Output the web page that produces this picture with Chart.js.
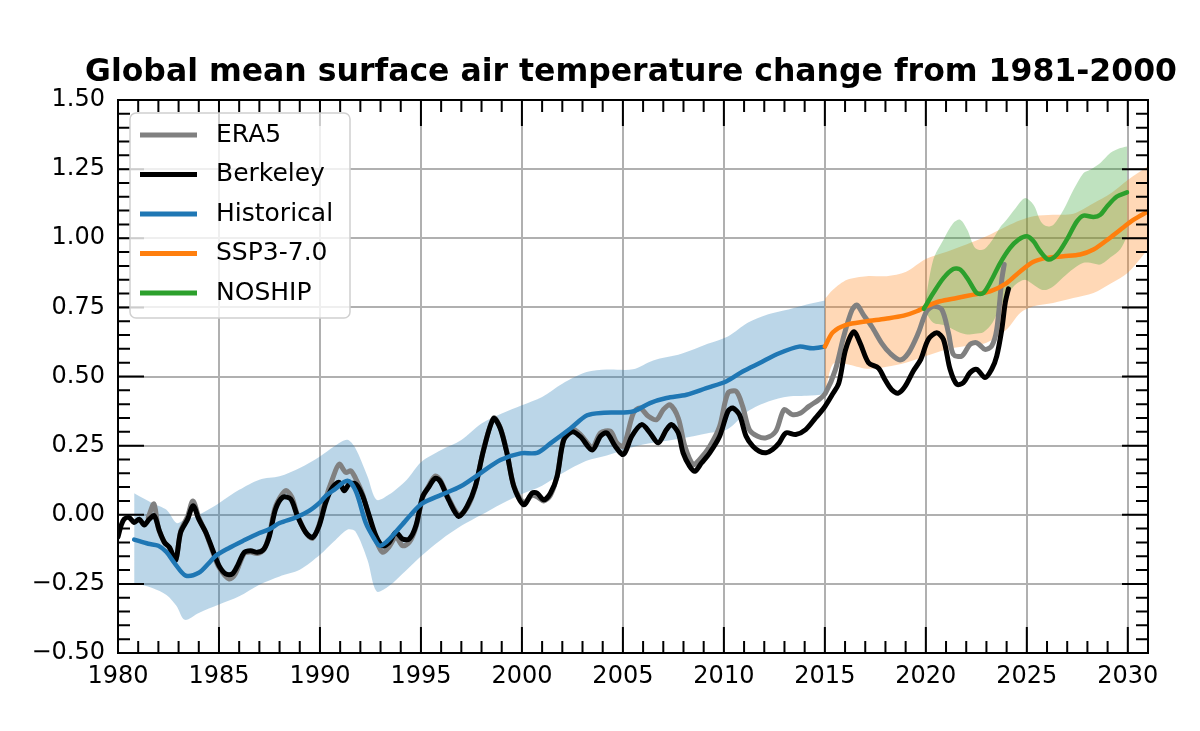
<!DOCTYPE html>
<html><head><meta charset="utf-8">
<script src="https://cdn.jsdelivr.net/npm/chart.js@4.4.1/dist/chart.umd.min.js"></script>
<style>html,body{margin:0;padding:0;background:#fff}#wrap{width:1200px;height:731px;position:relative}</style>
</head><body><div id="wrap"><canvas id="c"></canvas></div>
<script>
const titleText = 'Global mean surface air temperature change from 1981-2000';
const seriesNames = ['ERA5', 'Berkeley', 'Historical', 'SSP3-7.0', 'NOSHIP'];
const xTickYears = [1980, 1985, 1990, 1995, 2000, 2005, 2010, 2015, 2020, 2025, 2030];
const yTickValues = [-0.5, -0.25, 0, 0.25, 0.5, 0.75, 1.0, 1.25, 1.5];

const berkYears = [1980.0,1980.15,1980.3,1980.55,1980.8,1981.05,1981.3,1981.55,1981.8,1982.05,1982.3,1982.55,1982.85,1983.1,1983.45,1983.72,1984.0,1984.35,1984.67,1985.0,1985.33,1985.66,1985.92,1986.25,1986.57,1986.9,1987.23,1987.5,1987.8,1988.15,1988.55,1988.88,1989.3,1989.63,1989.96,1990.29,1990.62,1990.95,1991.2,1991.45,1991.78,1992.11,1992.44,1992.77,1993.1,1993.43,1993.76,1994.09,1994.42,1994.75,1995.08,1995.35,1995.71,1995.96,1996.37,1996.87,1997.28,1997.69,1998.1,1998.6,1998.93,1999.26,1999.6,2000.09,2000.5,2000.75,2001.08,2001.41,2001.74,2002.07,2002.49,2002.9,2003.48,2003.89,2004.2,2004.62,2005.03,2005.44,2005.93,2006.34,2006.75,2007.16,2007.41,2007.74,2007.98,2008.31,2008.56,2008.89,2009.3,2009.79,2010.2,2010.44,2010.77,2011.1,2011.43,2011.75,2012.08,2012.41,2012.74,2013.07,2013.56,2014.05,2014.54,2014.95,2015.36,2015.69,2016.02,2016.43,2016.75,2017.16,2017.66,2017.98,2018.31,2018.64,2018.97,2019.38,2019.75,2020.12,2020.54,2020.87,2021.2,2021.53,2021.86,2022.19,2022.52,2022.93,2023.26,2023.51,2023.76,2023.93,2024.09];
const berkVals = [-0.08,-0.04,-0.016,-0.01,-0.028,-0.016,-0.037,-0.016,-0.004,-0.058,-0.10,-0.118,-0.165,-0.064,-0.016,0.033,-0.016,-0.064,-0.124,-0.184,-0.214,-0.214,-0.184,-0.136,-0.13,-0.136,-0.124,-0.076,0.02,0.063,0.057,-0.004,-0.064,-0.082,-0.04,0.045,0.099,0.117,0.087,0.111,0.111,0.069,-0.004,-0.076,-0.112,-0.10,-0.064,-0.088,-0.088,-0.04,0.065,0.096,0.132,0.12,0.054,-0.006,0.03,0.102,0.234,0.348,0.312,0.222,0.102,0.036,0.078,0.078,0.054,0.078,0.138,0.27,0.30,0.282,0.234,0.284,0.296,0.248,0.218,0.284,0.326,0.296,0.26,0.308,0.326,0.296,0.224,0.175,0.157,0.187,0.224,0.284,0.374,0.386,0.362,0.284,0.248,0.23,0.224,0.236,0.26,0.296,0.29,0.308,0.35,0.386,0.434,0.476,0.596,0.662,0.62,0.55,0.53,0.488,0.452,0.44,0.464,0.52,0.562,0.634,0.658,0.634,0.526,0.472,0.478,0.514,0.526,0.496,0.526,0.574,0.67,0.766,0.817];

const era5Years = [1981.5,1981.78,1982.0,1982.3,1982.55,1982.85,1983.1,1983.45,1983.71,1984.0,1984.35,1984.67,1985.0,1985.5,1985.8,1986.25,1986.57,1986.9,1987.23,1987.5,1987.8,1988.3,1988.6,1988.88,1989.3,1989.63,1989.96,1990.29,1990.62,1990.95,1991.28,1991.53,1991.78,1992.11,1992.44,1992.77,1993.1,1993.43,1993.76,1994.09,1994.42,1994.75,1995.08,1995.35,1995.71,1995.96,1996.37,1996.87,1997.28,1997.69,1998.1,1998.6,1998.93,1999.26,1999.6,2000.09,2000.5,2000.75,2001.08,2001.41,2001.74,2002.07,2002.49,2002.9,2003.48,2003.89,2004.38,2004.7,2005.03,2005.52,2005.85,2006.26,2006.67,2007.0,2007.33,2007.74,2008.07,2008.48,2008.8,2009.3,2009.79,2010.2,2010.61,2010.93,2011.26,2011.67,2012.08,2012.57,2012.98,2013.39,2013.8,2014.21,2014.7,2015.03,2015.52,2015.93,2016.34,2016.59,2016.92,2017.33,2017.82,2018.23,2018.72,2019.13,2019.62,2020.03,2020.37,2020.79,2021.12,2021.36,2021.78,2022.19,2022.52,2022.93,2023.26,2023.51,2023.76,2023.88];
const era5Vals = [-0.01,0.039,-0.05,-0.10,-0.12,-0.165,-0.06,-0.005,0.05,-0.01,-0.065,-0.13,-0.19,-0.232,-0.215,-0.14,-0.135,-0.14,-0.125,-0.07,0.03,0.087,0.065,0.0,-0.065,-0.085,-0.035,0.06,0.13,0.183,0.153,0.159,0.129,0.075,-0.01,-0.09,-0.136,-0.115,-0.08,-0.112,-0.10,-0.045,0.06,0.10,0.14,0.125,0.06,0.0,0.025,0.10,0.235,0.35,0.315,0.225,0.105,0.045,0.07,0.065,0.05,0.07,0.14,0.275,0.31,0.29,0.245,0.296,0.302,0.26,0.248,0.368,0.386,0.356,0.344,0.38,0.398,0.35,0.248,0.182,0.20,0.248,0.32,0.44,0.446,0.392,0.308,0.284,0.278,0.302,0.38,0.362,0.368,0.392,0.416,0.44,0.524,0.644,0.74,0.758,0.722,0.68,0.62,0.584,0.56,0.584,0.656,0.735,0.754,0.742,0.658,0.58,0.574,0.616,0.622,0.598,0.61,0.67,0.85,0.905];

const histYears = [1980.8,1981.5,1982.0,1982.4,1982.8,1983.35,1984.0,1984.5,1984.85,1985.5,1986.2,1987.0,1987.5,1988.0,1988.8,1989.46,1990.0,1990.3,1990.7,1991.36,1991.78,1992.27,1992.67,1992.95,1993.26,1993.6,1994.09,1994.5,1995.05,1996.0,1996.95,1997.94,1998.93,1999.93,2000.75,2001.41,2002.4,2003.23,2004.06,2005.05,2005.6,2006.34,2007.16,2008.15,2009.13,2010.11,2010.93,2011.75,2012.74,2013.72,2014.38,2015.0];
const histVals = [-0.09,-0.105,-0.112,-0.135,-0.175,-0.22,-0.21,-0.175,-0.148,-0.12,-0.094,-0.066,-0.052,-0.03,-0.01,0.014,0.045,0.069,0.09,0.123,0.085,-0.03,-0.085,-0.112,-0.10,-0.075,-0.034,0.0,0.04,0.072,0.102,0.15,0.198,0.222,0.224,0.258,0.312,0.36,0.369,0.37,0.376,0.404,0.422,0.434,0.458,0.482,0.518,0.548,0.584,0.608,0.602,0.608];
const histBandYears = [1980.8,1981.7,1982.4,1982.9,1983.3,1984.0,1985.0,1986.0,1987.0,1988.0,1989.0,1990.0,1990.7,1991.35,1991.75,1992.35,1992.8,1993.4,1994.3,1995.0,1996.0,1997.0,1998.0,1999.0,2000.0,2001.0,2002.0,2003.2,2004.2,2005.5,2006.5,2007.9,2009.2,2010.2,2011.2,2012.2,2013.2,2014.1,2015.0];
const histUpper = [0.078,0.042,0.018,-0.03,-0.018,0.0,0.042,0.09,0.127,0.139,0.169,0.211,0.247,0.271,0.241,0.139,0.054,0.072,0.127,0.19,0.234,0.27,0.33,0.366,0.396,0.426,0.474,0.516,0.525,0.526,0.558,0.582,0.618,0.645,0.695,0.725,0.742,0.76,0.775];
const histLower = [-0.247,-0.265,-0.29,-0.33,-0.38,-0.355,-0.325,-0.295,-0.253,-0.223,-0.199,-0.145,-0.096,-0.054,-0.06,-0.163,-0.277,-0.259,-0.199,-0.15,-0.09,-0.04,0.0,0.04,0.075,0.105,0.15,0.195,0.214,0.245,0.26,0.276,0.295,0.31,0.375,0.41,0.428,0.43,0.435];

const sspYears = [2015.0,2015.4,2016.05,2017.0,2018.0,2018.9,2019.55,2020.04,2020.7,2021.53,2022.36,2023.18,2024.0,2024.67,2025.33,2026.0,2026.82,2027.64,2028.3,2029.0,2029.63,2030.29,2031.0];
const sspVals = [0.608,0.66,0.687,0.699,0.709,0.72,0.736,0.754,0.772,0.784,0.796,0.808,0.838,0.88,0.915,0.929,0.935,0.941,0.959,0.995,1.031,1.067,1.097];
const sspBandYears = [2015.0,2015.4,2016.1,2017.07,2018.06,2019.0,2020.0,2021.0,2022.0,2023.0,2024.0,2024.67,2025.33,2026.3,2027.3,2028.3,2029.2,2030.0,2031.0];
const sspUpper = [0.78,0.814,0.85,0.863,0.863,0.878,0.925,0.95,0.977,1.007,1.043,1.065,1.08,1.085,1.089,1.127,1.165,1.211,1.26];
const sspLower = [0.43,0.545,0.544,0.528,0.535,0.55,0.574,0.598,0.61,0.622,0.67,0.73,0.754,0.766,0.784,0.802,0.838,0.875,0.96];

const noshipYears = [2019.9,2020.37,2020.87,2021.36,2021.7,2022.1,2022.52,2022.85,2023.26,2023.68,2024.17,2024.59,2025.0,2025.33,2025.66,2026.07,2026.49,2026.98,2027.48,2027.81,2028.3,2028.64,2028.97,2029.46,2029.96];
const noshipVals = [0.745,0.802,0.856,0.889,0.887,0.85,0.802,0.802,0.85,0.91,0.965,0.995,1.007,0.989,0.953,0.923,0.941,0.995,1.061,1.082,1.077,1.085,1.115,1.151,1.166];
const noshipBandYears = [2019.96,2020.37,2020.87,2021.36,2021.7,2022.05,2022.44,2022.85,2023.3,2023.68,2024.0,2024.4,2024.9,2025.33,2025.7,2026.0,2026.32,2026.82,2027.31,2027.81,2028.14,2028.64,2029.13,2029.63,2029.96];
const noshipUpper = [0.766,0.923,0.995,1.055,1.067,1.031,0.965,0.959,0.995,1.04,1.067,1.105,1.145,1.121,1.06,1.043,1.049,1.103,1.175,1.236,1.248,1.272,1.308,1.326,1.332];
const noshipLower = [0.736,0.694,0.686,0.67,0.658,0.652,0.655,0.66,0.694,0.754,0.79,0.83,0.85,0.832,0.815,0.814,0.826,0.86,0.89,0.911,0.911,0.905,0.93,0.96,1.007];

const colors = ['#808080', '#000000', '#1f77b4', '#ff7f0e', '#2ca02c'];
const bandColors = ['rgba(31,119,180,0.3)', 'rgba(255,127,14,0.3)', 'rgba(44,160,44,0.3)'];

function pts(xs, ys) { return xs.map((x, i) => ({ x: x, y: ys[i] })); }
function lineDs(label, xs, ys, color, w, order) {
  return { label, data: pts(xs, ys), borderColor: color, backgroundColor: color, borderWidth: w,
    pointRadius: 0, fill: false, tension: 0.3, order, borderJoinStyle: 'round', borderCapStyle: 'round' };
}
function bandDs(label, xs, ys, color, fill, order) {
  return { label, data: pts(xs, ys), borderWidth: 0, borderColor: 'rgba(0,0,0,0)', backgroundColor: color,
    pointRadius: 0, fill, tension: 0.3, order };
}

const FONT = "'DejaVu Sans', sans-serif";

const inwardTicks = {
  id: 'inwardTicks',
  afterDatasetsDraw(chart) {
    const { ctx, chartArea: a, scales: { x, y } } = chart;
    ctx.save();
    ctx.strokeStyle = '#000';
    ctx.lineWidth = 2;
    ctx.beginPath();
    for (let yr = Math.ceil(x.min); yr <= x.max; yr++) {
      const px = x.getPixelForValue(yr);
      const L = (yr % 5 === 0) ? 26 : 12;
      ctx.moveTo(px, a.bottom); ctx.lineTo(px, a.bottom - L);
      ctx.moveTo(px, a.top); ctx.lineTo(px, a.top + L);
    }
    for (let k = Math.round(y.min / 0.05); k <= Math.round(y.max / 0.05); k++) {
      const py = y.getPixelForValue(k * 0.05);
      const L = (k % 5 === 0) ? 26 : 12;
      ctx.moveTo(a.left, py); ctx.lineTo(a.left + L, py);
      ctx.moveTo(a.right, py); ctx.lineTo(a.right - L, py);
    }
    ctx.stroke();
    ctx.strokeRect(a.left, a.top, a.right - a.left, a.bottom - a.top);
    ctx.restore();
  }
};

const boxLegend = {
  id: 'boxLegend',
  afterDraw(chart) {
    const { ctx, chartArea: a } = chart;
    const bx = a.left + 12, by = a.top + 13, bw = 220, bh = 205, r = 6;
    ctx.save();
    ctx.beginPath();
    ctx.moveTo(bx + r, by);
    ctx.arcTo(bx + bw, by, bx + bw, by + bh, r);
    ctx.arcTo(bx + bw, by + bh, bx, by + bh, r);
    ctx.arcTo(bx, by + bh, bx, by, r);
    ctx.arcTo(bx, by, bx + bw, by, r);
    ctx.closePath();
    ctx.fillStyle = 'rgba(255,255,255,0.8)';
    ctx.fill();
    ctx.strokeStyle = '#d0d0d0';
    ctx.lineWidth = 1.5;
    ctx.stroke();
    ctx.font = '25px ' + FONT;
    ctx.textBaseline = 'middle';
    ctx.textAlign = 'left';
    seriesNames.forEach((name, i) => {
      const yy = by + 22 + i * 39.5;
      ctx.strokeStyle = colors[i];
      ctx.lineWidth = 5;
      ctx.beginPath();
      ctx.moveTo(bx + 10, yy); ctx.lineTo(bx + 67, yy);
      ctx.stroke();
      ctx.fillStyle = '#000';
      ctx.fillText(name, bx + 86, yy);
    });
    ctx.restore();
  }
};

const datasets = [
  lineDs(seriesNames[0], era5Years, era5Vals, colors[0], 5, 5),
  lineDs(seriesNames[1], berkYears, berkVals, colors[1], 5, 4),
  lineDs(seriesNames[2], histYears, histVals, colors[2], 4.5, 3),
  lineDs(seriesNames[3], sspYears, sspVals, colors[3], 4.5, 2),
  lineDs(seriesNames[4], noshipYears, noshipVals, colors[4], 4.5, 1),
  bandDs('hist_hi', histBandYears, histUpper, bandColors[0], '+1', 10),
  bandDs('hist_lo', histBandYears, histLower, bandColors[0], false, 10),
  bandDs('ssp_hi', sspBandYears, sspUpper, bandColors[1], '+1', 9),
  bandDs('ssp_lo', sspBandYears, sspLower, bandColors[1], false, 9),
  bandDs('nos_hi', noshipBandYears, noshipUpper, bandColors[2], '+1', 8),
  bandDs('nos_lo', noshipBandYears, noshipLower, bandColors[2], false, 8)
];

new Chart(document.getElementById('c'), {
  type: 'line',
  data: { datasets },
  options: {
    responsive: true,
    maintainAspectRatio: false,
    animation: false,
    devicePixelRatio: 1,
    layout: { padding: { left: 0, right: 23, top: 0, bottom: 0 } },
    plugins: {
      legend: { display: false },
      tooltip: { enabled: false },
      title: {
        display: true, text: titleText, fullSize: true, align: 'end', color: '#000',
        font: { family: FONT, size: 31.5, weight: 'bold', lineHeight: 1.2 },
        padding: { top: 54.1, bottom: 8.1 }
      }
    },
    scales: {
      x: {
        type: 'linear', min: 1980, max: 2031,
        afterBuildTicks: (s) => { s.ticks = xTickYears.map(v => ({ value: v })); },
        afterFit: (s) => { s.height = 78; },
        grid: { color: '#b0b0b0', lineWidth: 2, drawTicks: false },
        border: { display: false },
        ticks: { color: '#000', font: { family: FONT, size: 24 }, padding: 9, maxRotation: 0,
          callback: (v) => String(v) }
      },
      y: {
        type: 'linear', min: -0.5, max: 1.5,
        afterBuildTicks: (s) => { s.ticks = yTickValues.map(v => ({ value: v })); },
        afterFit: (s) => { s.width = 118; },
        grid: { color: '#b0b0b0', lineWidth: 2, drawTicks: false },
        border: { display: false },
        ticks: { color: '#000', font: { family: FONT, size: 24 }, padding: 13,
          callback: (v) => (v < 0 ? '\u2212' : '') + Math.abs(v).toFixed(2) }
      },
      yRight: {
        type: 'linear', position: 'right', min: -0.5, max: 1.5,
        afterFit: (s) => { s.width = 29; },
        grid: { display: false, drawTicks: false },
        border: { display: false },
        ticks: { display: false }
      }
    }
  },
  plugins: [inwardTicks, boxLegend]
});
</script>
</body></html>
